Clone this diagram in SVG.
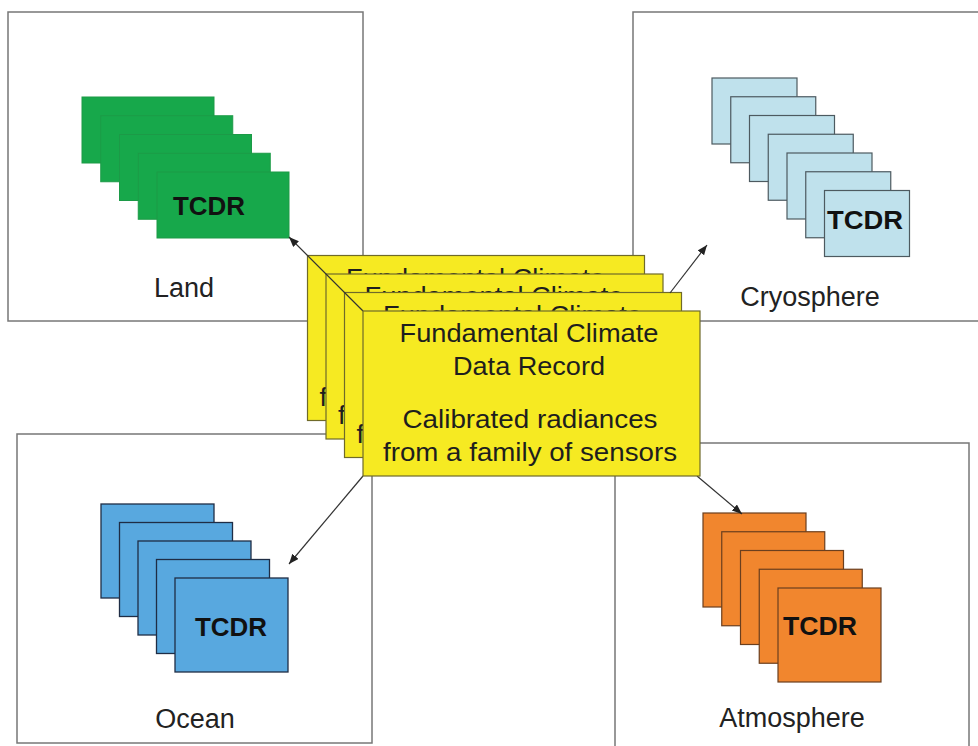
<svg xmlns="http://www.w3.org/2000/svg" xmlns:xlink="http://www.w3.org/1999/xlink" width="978" height="746" viewBox="0 0 978 746">
<style>
  .panel { fill: #ffffff; stroke: #777777; stroke-width: 1.5; }
  .green { fill: #17a84b; stroke: #1c9a47; stroke-width: 1; }
  .cyan { fill: #bfe1ec; stroke: #4d5a60; stroke-width: 1.2; }
  .blue { fill: #58a8df; stroke: #1f2d45; stroke-width: 1.3; }
  .orange { fill: #f1862e; stroke: #6b3f1e; stroke-width: 1.2; }
  .yellow { fill: #f6ea22; stroke: #6f6a2a; stroke-width: 1.2; }
  .tcdr { font-family: "Liberation Sans", Arial, sans-serif; font-weight: bold; font-size: 25px; fill: #111111; text-anchor: middle; }
  .label { font-family: "Liberation Sans", Arial, sans-serif; font-size: 27px; fill: #222222; text-anchor: middle; }
  .ytext { font-family: "Liberation Sans", Arial, sans-serif; font-size: 25px; fill: #1e1e1e; text-anchor: middle; }
  .conn { stroke: #333333; stroke-width: 1.2; fill: none; marker-end: url(#arrow); }
</style>
<defs>
  <marker id="arrow" markerWidth="11" markerHeight="9" refX="10" refY="4" orient="auto" markerUnits="userSpaceOnUse">
    <path d="M0,0 L10,4 L0,8 z" fill="#222222"/>
  </marker>
  <g id="fcdr-card">
    <rect class="yellow" x="0" y="0" width="337" height="165"/>
    <text class="ytext" x="166" y="31" textLength="259" lengthAdjust="spacingAndGlyphs">Fundamental Climate</text>
    <text class="ytext" x="166" y="64" textLength="152" lengthAdjust="spacingAndGlyphs">Data Record</text>
    <text class="ytext" x="167" y="117" textLength="255" lengthAdjust="spacingAndGlyphs">Calibrated radiances</text>
    <text class="ytext" x="167" y="150" textLength="294" lengthAdjust="spacingAndGlyphs">from a family of sensors</text>
  </g>
  <g id="fcdr-card-back">
    <rect class="yellow" x="0" y="0" width="337" height="165"/>
    <text class="ytext" x="168" y="31" textLength="259" lengthAdjust="spacingAndGlyphs">Fundamental Climate</text>
    <text class="ytext" x="166" y="64" textLength="152" lengthAdjust="spacingAndGlyphs">Data Record</text>
    <text class="ytext" x="160" y="117" textLength="255" lengthAdjust="spacingAndGlyphs">Calibrated radiances</text>
    <text class="ytext" x="159" y="150" textLength="294" lengthAdjust="spacingAndGlyphs">from a family of sensors</text>
  </g>
</defs>
<rect x="0" y="0" width="978" height="746" fill="#ffffff"/>

<g id="land">
  <rect class="panel" x="8" y="12" width="355" height="309"/>
  <rect class="green" x="82" y="97" width="132" height="66"/>
  <rect class="green" x="100.75" y="115.75" width="132" height="66"/>
  <rect class="green" x="119.5" y="134.5" width="132" height="66"/>
  <rect class="green" x="138.25" y="153.25" width="132" height="66"/>
  <rect class="green" x="157" y="172" width="132" height="66"/>
  <text class="tcdr" x="209" y="215" textLength="72" lengthAdjust="spacingAndGlyphs">TCDR</text>
  <text class="label" x="184" y="297">Land</text>
</g>

<g id="cryosphere">
  <rect class="panel" x="633" y="12" width="360" height="309"/>
  <rect class="cyan" x="712" y="78" width="85" height="66"/>
  <rect class="cyan" x="730.75" y="96.75" width="85" height="66"/>
  <rect class="cyan" x="749.5" y="115.5" width="85" height="66"/>
  <rect class="cyan" x="768.25" y="134.25" width="85" height="66"/>
  <rect class="cyan" x="787" y="153" width="85" height="66"/>
  <rect class="cyan" x="805.75" y="171.75" width="85" height="66"/>
  <rect class="cyan" x="824.5" y="190.5" width="85" height="66"/>
  <text class="tcdr" x="865" y="229" textLength="76" lengthAdjust="spacingAndGlyphs">TCDR</text>
  <text class="label" x="810" y="306">Cryosphere</text>
</g>

<g id="ocean">
  <rect class="panel" x="17" y="434" width="355" height="309"/>
  <rect class="blue" x="101" y="504" width="113" height="94"/>
  <rect class="blue" x="119.5" y="522.5" width="113" height="94"/>
  <rect class="blue" x="138" y="541" width="113" height="94"/>
  <rect class="blue" x="156.5" y="559.5" width="113" height="94"/>
  <rect class="blue" x="175" y="578" width="113" height="94"/>
  <text class="tcdr" x="231" y="636" textLength="72" lengthAdjust="spacingAndGlyphs">TCDR</text>
  <text class="label" x="195" y="728">Ocean</text>
</g>

<g id="atmosphere">
  <rect class="panel" x="615" y="443" width="354" height="320"/>
  <rect class="orange" x="703" y="513" width="103" height="94"/>
  <rect class="orange" x="721.75" y="531.75" width="103" height="94"/>
  <rect class="orange" x="740.5" y="550.5" width="103" height="94"/>
  <rect class="orange" x="759.25" y="569.25" width="103" height="94"/>
  <rect class="orange" x="778" y="588" width="103" height="94"/>
  <text class="tcdr" x="820" y="635" textLength="74" lengthAdjust="spacingAndGlyphs">TCDR</text>
  <text class="label" x="792" y="727">Atmosphere</text>
</g>

<g id="fcdr-back">
  <use xlink:href="#fcdr-card-back" href="#fcdr-card-back" transform="translate(307.5,255.5)"/>
  <use xlink:href="#fcdr-card-back" href="#fcdr-card-back" transform="translate(326,274)"/>
  <use xlink:href="#fcdr-card-back" href="#fcdr-card-back" transform="translate(344.5,292.5)"/>
</g>

<g id="connectors">
  <line class="conn" x1="363" y1="311" x2="289" y2="237"/>
  <line class="conn" x1="670" y1="293" x2="707" y2="245"/>
  <line class="conn" x1="363" y1="476" x2="289" y2="564"/>
  <line class="conn" x1="697" y1="476" x2="742" y2="514"/>
</g>

<g id="fcdr">
  <use xlink:href="#fcdr-card" href="#fcdr-card" transform="translate(363,311)"/>
</g>
</svg>
